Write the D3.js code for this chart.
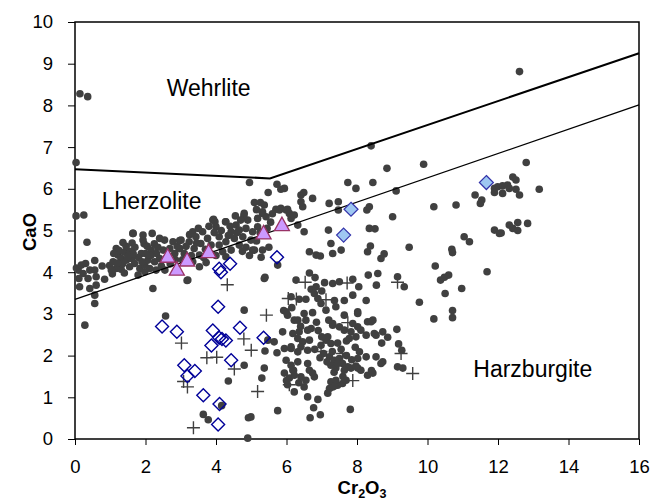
<!DOCTYPE html>
<html>
<head>
<meta charset="utf-8">
<script src="https://cdn.jsdelivr.net/npm/d3@7"></script>
<style>
  body { margin: 0; background: #fff; }
  text { font-family: Arial, "Liberation Sans", sans-serif; fill: #000; }
</style>
</head>
<body>
<svg id="chart" width="653" height="502"></svg>
<script>
// ---- axis ticks ----
const xTicks = [0, 2, 4, 6, 8, 10, 12, 14, 16];
const yTicks = [0, 1, 2, 3, 4, 5, 6, 7, 8, 9, 10];

// ---- field boundaries (Cr2O3, CaO) ----
const upperBoundary = [[0, 6.47], [5.53, 6.25], [16, 9.25]];
const lowerBoundary = [[0, 3.35], [16, 8.01]];

// ---- field names ----
const fieldLabels = [
  { name: "Wehrlite", cr: 2.6, cao: 8.22 },
  { name: "Lherzolite", cr: 0.76, cao: 5.52 },
  { name: "Harzburgite", cr: 11.3, cao: 1.48 }
];

// ---- garnet compositions (Cr2O3 wt%, CaO wt%) ----
const peridotiteGarnets = [
  [0.14,8.28],[0.36,8.21],[0.03,6.63],[0.03,5.35],[0.25,5.37],[12.61,8.81],[12.80,6.63],[8.40,7.03],[8.85,6.49],[9.89,6.59],
  [0.04,4.10],[0.09,4.05],[0.18,4.17],[0.30,4.21],[0.56,4.28],[0.77,4.15],[0.98,4.16],[0.42,4.05],[0.56,4.05],[0.23,3.97],
  [0.11,3.85],[0.37,3.85],[0.60,3.89],[0.84,3.83],[1.06,3.96],[0.60,3.69],[0.13,3.65],[0.42,3.61],[0.56,3.45],[0.56,3.25],
  [0.28,2.73],[0.34,4.72],
  [1.65,4.93],[1.93,4.89],[1.93,4.77],[1.96,4.68],[2.19,4.93],[1.36,4.71],[1.17,4.57],[2.40,4.81],[2.54,4.77],[2.78,4.73],
  [2.97,4.76],[1.22,4.41],[1.31,4.33],[1.46,4.29],[1.60,4.33],[1.69,4.21],[1.55,4.13],[1.84,4.09],[1.98,4.17],[2.07,4.29],
  [1.88,4.45],[2.16,4.53],[2.31,4.45],[2.40,4.33],[2.26,4.25],[2.12,4.09],[1.98,4.01],[1.79,3.93],[2.50,4.53],[2.69,4.57],
  [2.83,4.45],[2.97,4.57],[1.08,4.25],[1.17,4.09],[1.31,4.07],[1.03,4.05],
  [1.25,4.52],[1.40,4.48],[1.55,4.50],[1.70,4.60],[1.80,4.35],[1.45,4.62],[1.62,4.70],[2.05,4.62],[2.25,4.68],[2.60,4.35],
  [2.70,4.20],[2.45,4.15],[2.85,4.30],[1.10,4.45],[1.40,3.98],[1.65,4.45],[2.30,4.05],[2.55,4.05],[1.90,4.25],[2.00,4.45],
  [1.35,4.20],[1.50,4.38],[2.15,4.40],[2.90,4.62],[2.35,4.60],[1.20,4.22],
  [2.21,3.61],[2.57,2.95],[3.18,3.80],[3.72,4.23],
  [5.37,5.61],[5.32,5.41],[5.42,5.33],[5.70,5.51],[5.84,5.53],[5.99,5.49],[6.08,5.41],[6.13,5.29],[6.41,5.85],[6.46,5.57],
  [6.50,4.97],[4.80,5.41],[4.28,5.21],[3.91,5.25],[4.00,5.09],[4.57,5.13],[4.43,4.97],[4.66,5.01],[4.85,5.05],[5.04,4.97],
  [5.18,5.09],[3.62,4.97],[3.34,4.97],[3.43,4.85],[3.76,4.81],[4.09,4.85],[4.28,4.73],[4.52,4.81],[4.76,4.85],[4.99,4.77],
  [4.09,4.65],[3.86,4.65],[3.57,4.69],[3.24,4.73],[3.01,4.77],[2.96,4.57],[3.38,4.57],[3.10,4.45],[3.53,4.41],[4.19,4.49],
  [4.43,4.53],[4.66,4.65],[4.28,4.37],[3.34,4.25],[3.53,4.13],[3.20,3.81],[5.04,4.53],[5.28,4.36],[5.37,3.85],[4.80,3.09],
  [5.18,5.29],[4.90,5.25],
  [4.95,6.15],[5.73,6.11],[5.84,5.99],[5.48,5.91],[5.09,5.67],[5.26,5.67],[4.79,5.35],[3.93,5.27],[3.97,5.21],[4.27,5.21],
  [5.32,5.45],[5.80,5.49],[6.03,5.51],[6.49,5.91],[6.41,5.69],[6.32,5.13],[5.32,4.53],[5.09,4.53],[5.39,3.88],[1.64,4.93],
  [6.13,3.41],[5.99,3.05],[6.22,2.85],[6.22,5.37],
  [3.15,4.62],[3.30,4.40],[3.70,4.55],[3.85,4.45],[3.95,4.95],[4.15,5.00],[4.35,4.88],[4.60,4.95],[4.70,5.25],[4.55,5.35],
  [3.80,5.10],[3.50,5.05],[3.25,4.90],[3.65,4.35],[4.00,4.40],[4.85,4.60],[4.95,4.40],[5.15,4.75],[5.25,4.95],[5.45,5.05],
  [5.55,5.20],[5.60,5.40],[5.15,5.50],[3.05,4.30],[3.45,4.70],[4.40,5.10],[4.75,4.50],[5.50,4.60],
  [7.74,6.15],[7.97,6.01],[8.45,6.15],[9.11,5.95],[5.94,6.01],[6.74,5.77],[7.21,5.65],[7.47,5.69],[7.47,5.49],[8.28,5.49],
  [8.35,5.57],[9.01,5.33],[10.18,5.57],[10.81,5.61],[11.35,5.85],[11.54,5.73],[11.50,5.65],[7.19,5.01],[7.26,4.69],[7.55,4.53],
  [6.65,4.49],[6.84,4.41],[6.96,4.39],[7.31,4.45],[8.35,5.05],[8.51,5.04],[8.38,4.63],[8.30,4.49],[8.77,4.44],[8.68,4.33],
  [9.48,4.60],[10.22,4.15],[10.69,4.55],[10.71,4.47],[11.04,4.85],[11.19,4.73],[11.69,4.01],[11.90,5.01],[12.04,4.93],[5.75,4.17],
  [6.27,3.81],[6.65,3.98],[6.81,3.87],[6.84,3.65],[7.08,3.75],[7.31,3.73],[7.50,3.77],[7.88,3.83],[8.05,3.65],[8.32,3.93],
  [8.59,3.97],[8.55,3.69],[9.15,3.89],[9.34,3.65],[10.37,3.81],[10.48,3.88],[10.60,3.93],[10.97,3.61],
  [11.90,6.01],[11.99,6.05],[12.13,6.07],[12.27,6.09],[12.42,6.28],[12.51,6.21],[12.32,6.01],[12.13,5.89],[12.51,5.99],[12.61,5.85],
  [11.90,5.91],[13.17,5.99],[12.09,4.94],[12.32,5.13],[12.42,5.05],[12.56,5.19],[12.84,5.17],[12.56,5.00],
  [10.50,3.49],[9.77,3.28],[10.71,3.08],[10.71,2.91],[10.18,2.88],
  [6.36,3.35],[6.55,3.35],[6.70,3.59],[6.79,3.49],[6.89,3.37],[6.98,3.25],[7.36,3.32],[7.64,3.32],[7.88,3.45],[8.26,3.32],
  [8.02,3.05],[7.64,2.97],[7.40,3.17],
  [5.92,3.08],[6.03,2.97],[6.32,2.85],[6.50,3.01],[6.74,3.03],[7.12,3.09],[7.31,2.73],[7.50,2.69],[7.64,2.61],[7.83,2.57],
  [8.02,2.69],[8.11,2.61],[7.97,2.45],[7.78,2.41],[8.30,2.81],[8.45,2.85],[8.73,2.57],[8.87,2.44],[9.13,2.63],[8.54,2.49],
  [8.26,2.49],[7.31,2.77],[7.88,2.77],[8.02,3.01],[8.40,2.81],
  [5.89,2.57],[6.18,2.53],[6.36,2.57],[6.60,2.61],[6.70,2.65],[6.32,2.41],[6.46,2.33],[6.65,2.37],[6.13,2.17],[5.94,2.17],
  [5.73,2.07],[6.32,2.09],[6.60,2.13],[6.98,2.25],[7.12,2.37],[7.26,2.29],[7.17,2.45],[6.41,2.21],[6.13,2.21],
  [7.22,1.97],[7.36,1.89],[7.50,1.93],[7.59,1.81],[7.74,1.73],[7.26,1.77],[7.40,1.70],[7.64,1.65],[7.83,1.70],[7.45,1.81],
  [8.02,1.93],[8.26,1.97],[8.54,1.97],[8.73,1.85],[9.15,1.73],[9.30,1.70],[8.30,1.53],[8.02,1.70],[8.07,2.09],
  [8.49,2.53],[8.68,1.81],[8.45,1.58],[8.11,1.65],[7.97,1.75],[9.18,2.28],[9.27,2.13],[8.41,1.64],[8.70,2.30],
  [7.05,2.05],[7.30,2.10],[7.55,2.15],[7.70,2.00],[7.15,1.85],[7.35,1.60],[7.60,1.50],[7.85,1.90],[6.95,1.95],[7.45,2.30],
  [6.90,2.60],[6.20,1.65],[6.35,1.35],[6.65,1.65],[6.00,1.40],[7.00,3.55],[7.20,2.85],[6.55,2.85],[6.15,3.15],[7.95,2.20],
  [6.85,2.80],[6.40,2.70],[7.00,2.45],[6.80,2.15],[7.70,2.35],[6.32,1.85],[6.60,1.81],[6.18,1.65],
  [5.94,1.58],[6.08,1.46],[6.22,1.53],[6.41,1.49],[6.55,1.41],[6.79,1.49],[6.74,1.58],[6.03,1.30],[6.22,1.13],[6.50,1.25],
  [7.31,1.25],[7.45,1.29],[7.59,1.33],[7.26,1.37],[7.40,1.41],[7.69,1.41],[7.22,1.21],[7.36,1.27],
  [6.60,1.01],[6.89,0.95],[7.17,1.10],[5.75,0.68],[6.77,0.75],[6.67,0.51],[6.96,0.58],[7.81,0.71],
  [5.37,1.70],[5.30,1.46],[5.39,2.11],[4.99,0.53],[5.99,1.89],[6.13,1.77],[5.47,2.37],[5.65,2.33],[4.80,1.77],[4.35,1.39],
  [4.92,0.51],[3.64,0.59],[3.78,0.46],[4.16,0.80],[4.90,0.02]
];

const crossPoints = [
  [4.32,3.70],[6.05,3.37],[6.28,3.36],[6.53,3.76],[7.72,3.74],[9.15,3.76],[7.12,3.34],[5.43,2.97],[7.74,2.79],[3.02,2.30],
  [4.79,2.40],[5.00,2.13],[3.74,1.95],[4.02,1.96],[4.52,1.68],[3.08,1.38],[3.19,1.25],[5.18,1.14],[3.36,0.27],[6.98,2.10],
  [7.59,2.05],[9.25,2.05],[9.58,1.57],[7.88,1.40],[6.08,1.30]
];

const openDiamondPoints = [
  [5.73,4.36],[4.40,4.20],[4.09,4.08],[4.14,4.00],[4.06,3.17],[2.47,2.70],[2.89,2.57],[3.91,2.60],[4.68,2.67],[5.35,2.43],
  [4.09,2.43],[4.17,2.40],[4.28,2.36],[3.87,2.24],[4.43,1.89],[3.10,1.77],[3.40,1.63],[3.19,1.51],[3.64,1.05],[4.10,0.84],
  [4.06,0.35]
];

const filledDiamondPoints = [[7.83,5.51],[7.62,4.89],[11.67,6.15]];

const trianglePoints = [[2.63,4.37],[2.89,4.06],[3.18,4.28],[3.79,4.48],[5.35,4.93],[5.87,5.13]];

// ---- layout ----
const svg = d3.select("#chart");
const x = d3.scaleLinear().domain([0, 16]).range([75, 639]);
const y = d3.scaleLinear().domain([0, 10]).range([439, 22]);

svg.append("rect").attr("width", 653).attr("height", 502).attr("fill", "#fff");

// axes
const xAxis = svg.append("g")
  .attr("transform", "translate(0,439)")
  .call(d3.axisBottom(x).tickValues(xTicks).tickSize(6).tickPadding(15).tickFormat(d3.format("d")));
const yAxis = svg.append("g")
  .attr("transform", "translate(75,0)")
  .call(d3.axisLeft(y).tickValues(yTicks).tickSize(7).tickPadding(15).tickFormat(d3.format("d")));
[xAxis, yAxis].forEach(g => {
  g.select(".domain").remove();
  g.selectAll(".tick line").attr("stroke", "#000").attr("stroke-width", 1);
  g.selectAll(".tick text").style("font-size", "18.5px").style("font-family", "Arial, 'Liberation Sans', sans-serif").attr("fill", "#000");
});

// plot frame
svg.append("rect")
  .attr("x", x(0)).attr("y", y(10))
  .attr("width", x(16) - x(0)).attr("height", y(0) - y(10))
  .attr("fill", "none").attr("stroke", "#000").attr("stroke-width", 1.5);

const plot = svg.append("g");

// grey garnets
plot.selectAll("circle.grt")
  .data(peridotiteGarnets)
  .join("circle")
  .attr("class", "grt")
  .attr("cx", d => x(d[0])).attr("cy", d => y(d[1]))
  .attr("r", 3.8)
  .attr("fill", "#404040");

// crosses
plot.selectAll("path.cross")
  .data(crossPoints)
  .join("path")
  .attr("class", "cross")
  .attr("transform", d => `translate(${x(d[0])},${y(d[1])})`)
  .attr("d", "M-6.5,0H6.5M0,-6.5V6.5")
  .attr("stroke", "#404040").attr("stroke-width", 1.4).attr("fill", "none");

// open diamonds
plot.selectAll("path.odia")
  .data(openDiamondPoints)
  .join("path")
  .attr("class", "odia")
  .attr("transform", d => `translate(${x(d[0])},${y(d[1])})`)
  .attr("d", "M0,-6.5L6.5,0L0,6.5L-6.5,0Z")
  .attr("stroke", "#000099").attr("stroke-width", 1.4).attr("fill", "none");

// field boundaries
const line = d3.line().x(d => x(d[0])).y(d => y(d[1]));
plot.append("path").datum(upperBoundary).attr("d", line)
  .attr("fill", "none").attr("stroke", "#000").attr("stroke-width", 2);
plot.append("path").datum(lowerBoundary).attr("d", line)
  .attr("fill", "none").attr("stroke", "#000").attr("stroke-width", 1.3);

// filled diamonds
plot.selectAll("path.fdia")
  .data(filledDiamondPoints)
  .join("path")
  .attr("class", "fdia")
  .attr("transform", d => `translate(${x(d[0])},${y(d[1])})`)
  .attr("d", "M0,-7L7,0L0,7L-7,0Z")
  .attr("stroke", "#3333AA").attr("stroke-width", 1.2).attr("fill", "#9EC7F2");

// triangles
plot.selectAll("path.tri")
  .data(trianglePoints)
  .join("path")
  .attr("class", "tri")
  .attr("transform", d => `translate(${x(d[0])},${y(d[1])})`)
  .attr("d", "M0,-8L7.5,5.5L-7.5,5.5Z")
  .attr("stroke", "#993366").attr("stroke-width", 1.3).attr("fill", "#CC99FF");

// field names
svg.selectAll("text.field")
  .data(fieldLabels)
  .join("text")
  .attr("class", "field")
  .attr("x", d => x(d.cr)).attr("y", d => y(d.cao))
  .style("font-size", "23px")
  .text(d => d.name);

// axis titles
svg.append("text")
  .attr("transform", "translate(36,232) rotate(-90)")
  .attr("text-anchor", "middle")
  .style("font-size", "18.5px").style("font-weight", "bold")
  .text("CaO");

const xt = svg.append("text")
  .attr("x", 362).attr("y", 494)
  .attr("text-anchor", "middle")
  .style("font-size", "18.5px").style("font-weight", "bold");
xt.append("tspan").text("Cr");
xt.append("tspan").attr("dy", 4).style("font-size", "12.5px").text("2");
xt.append("tspan").attr("dy", -4).text("O");
xt.append("tspan").attr("dy", 4).style("font-size", "12.5px").text("3");
</script>
</body>
</html>
